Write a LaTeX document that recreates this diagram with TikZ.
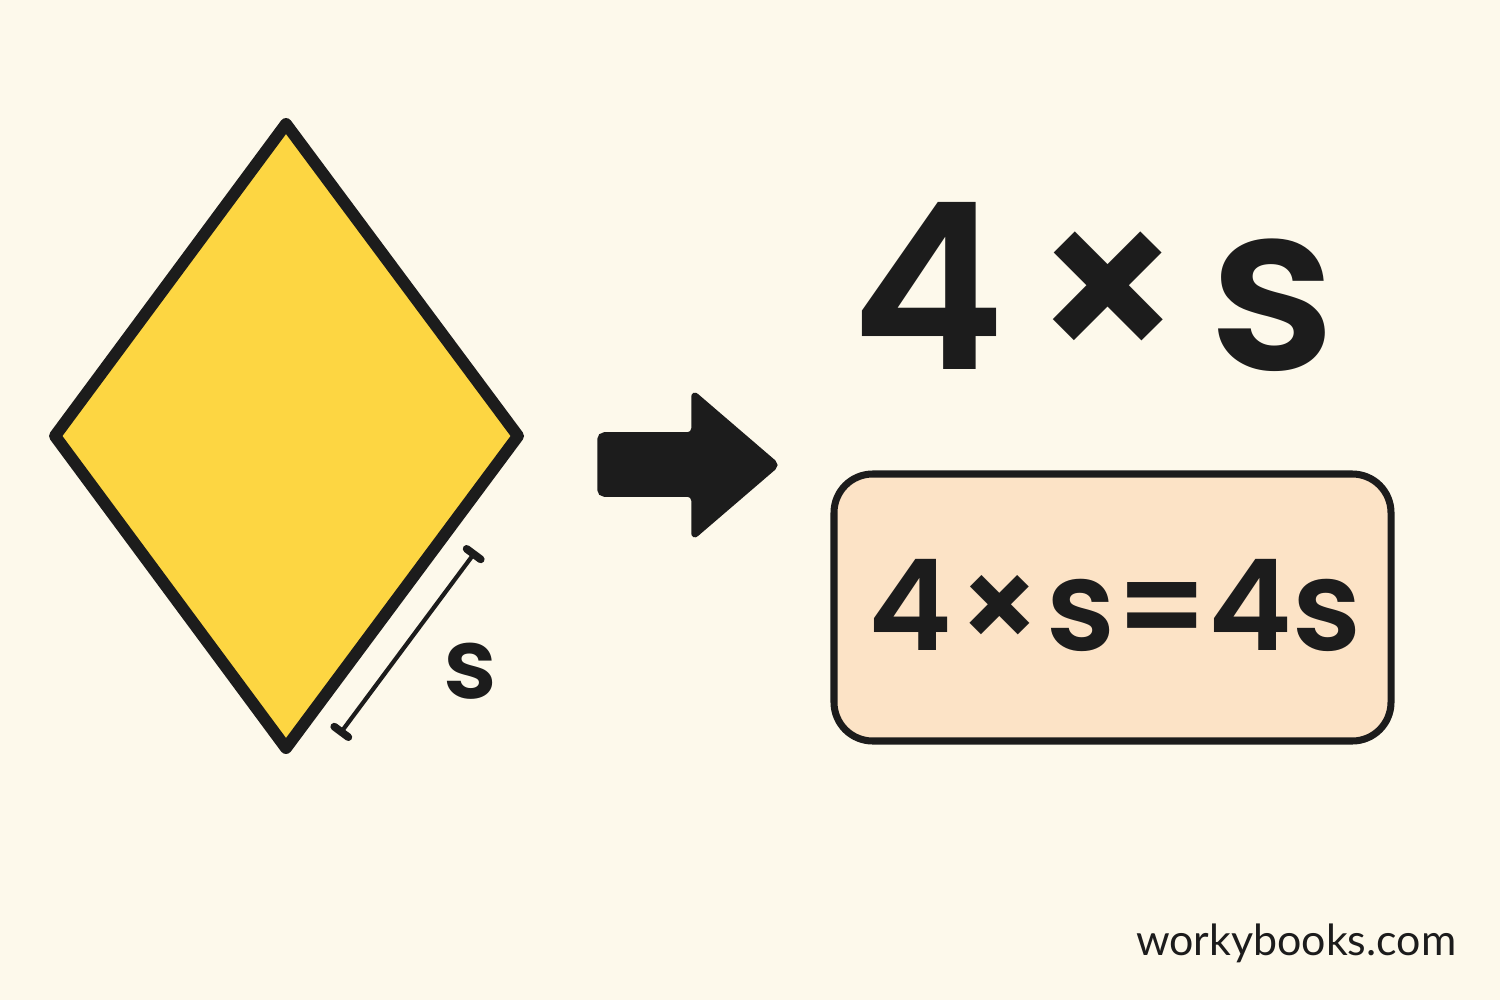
\documentclass[tikz,border=0pt]{standalone}
\usepackage{fontspec}
\usetikzlibrary{arrows.meta}
\newfontfamily\popfont{Poppins SemiBold}
\newfontfamily\markfont{Lato}
\definecolor{bgcream}{RGB}{253,249,235}
\definecolor{rhombyellow}{RGB}{253,214,66}
\definecolor{peach}{RGB}{252,227,198}
\definecolor{ink}{RGB}{28,28,28}
\begin{document}
\begin{tikzpicture}[x=0.01cm,y=-0.01cm,
  shapeline/.style={draw=ink,line join=round,line cap=round},
  bigtext/.style={text=ink,inner sep=0pt,anchor=base,font=\popfont}]
\fill[bgcream] (0,0) rectangle (1500,1000);
\useasboundingbox (0,0) rectangle (1500,1000);
% rhombus
\coordinate (rt) at (286,124);
\coordinate (rr) at (518,436);
\coordinate (rb) at (286,748);
\coordinate (rl) at (55,436);
\filldraw[shapeline,fill=rhombyellow,line width=3.4pt] (rt) -- (rr) -- (rb) -- (rl) -- cycle;
% side mark
\coordinate (m1) at (339,735);
\coordinate (m2) at (476,551);
\draw[ink,line width=1.2pt,{Bar[width=5pt,line width=2.2pt,round]}-{Bar[width=5pt,line width=2.2pt,round]}] (m1) -- (m2);
\node[bigtext,font=\popfont\fontsize{28}{30}\selectfont] (slabel) at (470,698) {s};
% arrow
\filldraw[fill=ink,draw=ink,line width=1pt,rounded corners=1.5pt]
  (599,434) -- (693,434) -- (693,392) -- (778,465) -- (693,538) -- (693,495) -- (599,495) -- cycle;
% big formula
\node[bigtext,font=\popfont\fontsize{66}{76}\selectfont] (big) at (1094,369) {4\hspace{0.11em}×\hspace{0.1em}s};
% box
\filldraw[draw=ink,fill=peach,line width=2pt,rounded corners=11pt] (834,474) rectangle (1391,741);
\node[bigtext,font=\popfont\fontsize{36}{42}\selectfont] (eq) at (1115,650) {4\hspace{0.04em}×\hspace{0.03em}s=4s};
% credit
\node[text=ink,inner sep=0pt,anchor=base east,font=\markfont\fontsize{12.2}{14}\selectfont] (credit) at (1457,955) {workybooks.com};
\end{tikzpicture}
\end{document}
